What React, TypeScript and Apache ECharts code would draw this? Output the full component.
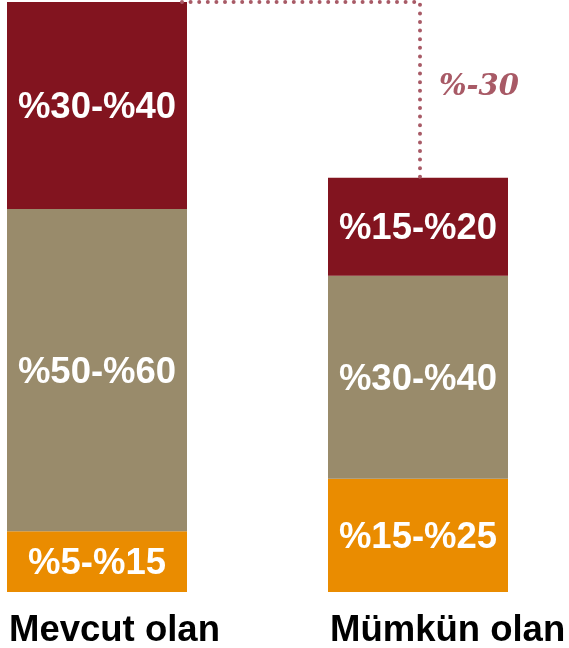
import React, { useEffect, useRef } from "react";
import * as echarts from "echarts";

const categories = ["Mevcut olan", "Mümkün olan"];
const lowValues = [10.3, 19.2];
const midValues = [54.6, 34.4];
const highValues = [35.1, 16.6];
const lowLabels = ["%5-%15", "%15-%25"];
const midLabels = ["%50-%60", "%30-%40"];
const highLabels = ["%30-%40", "%15-%20"];
const changeLabel = "%-30";

const RED = "#82141f";
const GRAY = "#998b6b";
const ORANGE = "#ea8c00";
const ACCENT = "#a85a66";

export default function App() {
  const ref = useRef<HTMLDivElement>(null);
  useEffect(() => {
    if (!ref.current) return;
    const chart = echarts.init(ref.current, null, { renderer: "svg" });
    const segLabel = (labels: string[]) => ({
      show: true,
      position: "inside",
      color: "#ffffff",
      fontFamily: "Liberation Sans",
      fontWeight: "bold",
      fontSize: 36.5,
      formatter: (p: any) => labels[p.dataIndex],
    });
    chart.setOption({
      animation: false,
      grid: {
        left: 97,
        right: 151,
        top: 2,
        bottom: 56,
        containLabel: false,
        outerBoundsMode: "none",
      },
      xAxis: {
        type: "category",
        data: categories,
        boundaryGap: false,
        axisLine: { show: false },
        axisTick: { show: false },
        splitLine: { show: false },
        axisLabel: {
          interval: 0,
          margin: 18,
          formatter: (v: string) => `{a|${v}}`,
          rich: {
            a: {
              width: 176,
              align: "left",
              fontFamily: "Liberation Sans",
              fontWeight: "bold",
              fontSize: 36.5,
              color: "#000000",
            },
          },
        },
      },
      yAxis: { type: "value", min: 0, max: 100, show: false },
      series: [
        {
          type: "bar",
          stack: "s",
          barWidth: 180,
          data: lowValues,
          itemStyle: { color: ORANGE },
          label: segLabel(lowLabels),
        },
        {
          type: "bar",
          stack: "s",
          barWidth: 180,
          data: midValues,
          itemStyle: { color: GRAY },
          label: segLabel(midLabels),
        },
        {
          type: "bar",
          stack: "s",
          barWidth: 180,
          data: highValues,
          itemStyle: { color: RED },
          label: segLabel(highLabels),
        },
      ],
    });
    const total = (i: number) => lowValues[i] + midValues[i] + highValues[i];
    const x1 = chart.convertToPixel({ xAxisIndex: 0 }, categories[0]) as number;
    const x2 = chart.convertToPixel({ xAxisIndex: 0 }, categories[1]) as number;
    const y1 = chart.convertToPixel({ yAxisIndex: 0 }, total(0)) as number;
    const y2 = chart.convertToPixel({ yAxisIndex: 0 }, total(1)) as number;
    chart.setOption({
      graphic: [
        {
          type: "polyline",
          z: 100,
          shape: { points: [[x1 + 85, y1], [x2 + 2, y1], [x2 + 2, y2]] },
          style: {
            stroke: ACCENT,
            lineWidth: 4,
            lineDash: [0, 8.6],
            lineCap: "round",
            fill: null,
          },
        },
        {
          type: "text",
          z: 100,
          x: x2 + 21,
          y: (y1 + y2) / 2 - 5,
          style: {
            text: changeLabel,
            fill: ACCENT,
            fontFamily: "DejaVu Serif",
            fontStyle: "italic",
            fontWeight: "bold",
            fontSize: 29,
            verticalAlign: "middle",
            align: "left",
          },
        },
      ],
    });
    return () => chart.dispose();
  }, []);
  return (
    <div
      ref={ref}
      style={{ position: "fixed", left: 0, top: 0, width: 569, height: 648 }}
    />
  );
}
